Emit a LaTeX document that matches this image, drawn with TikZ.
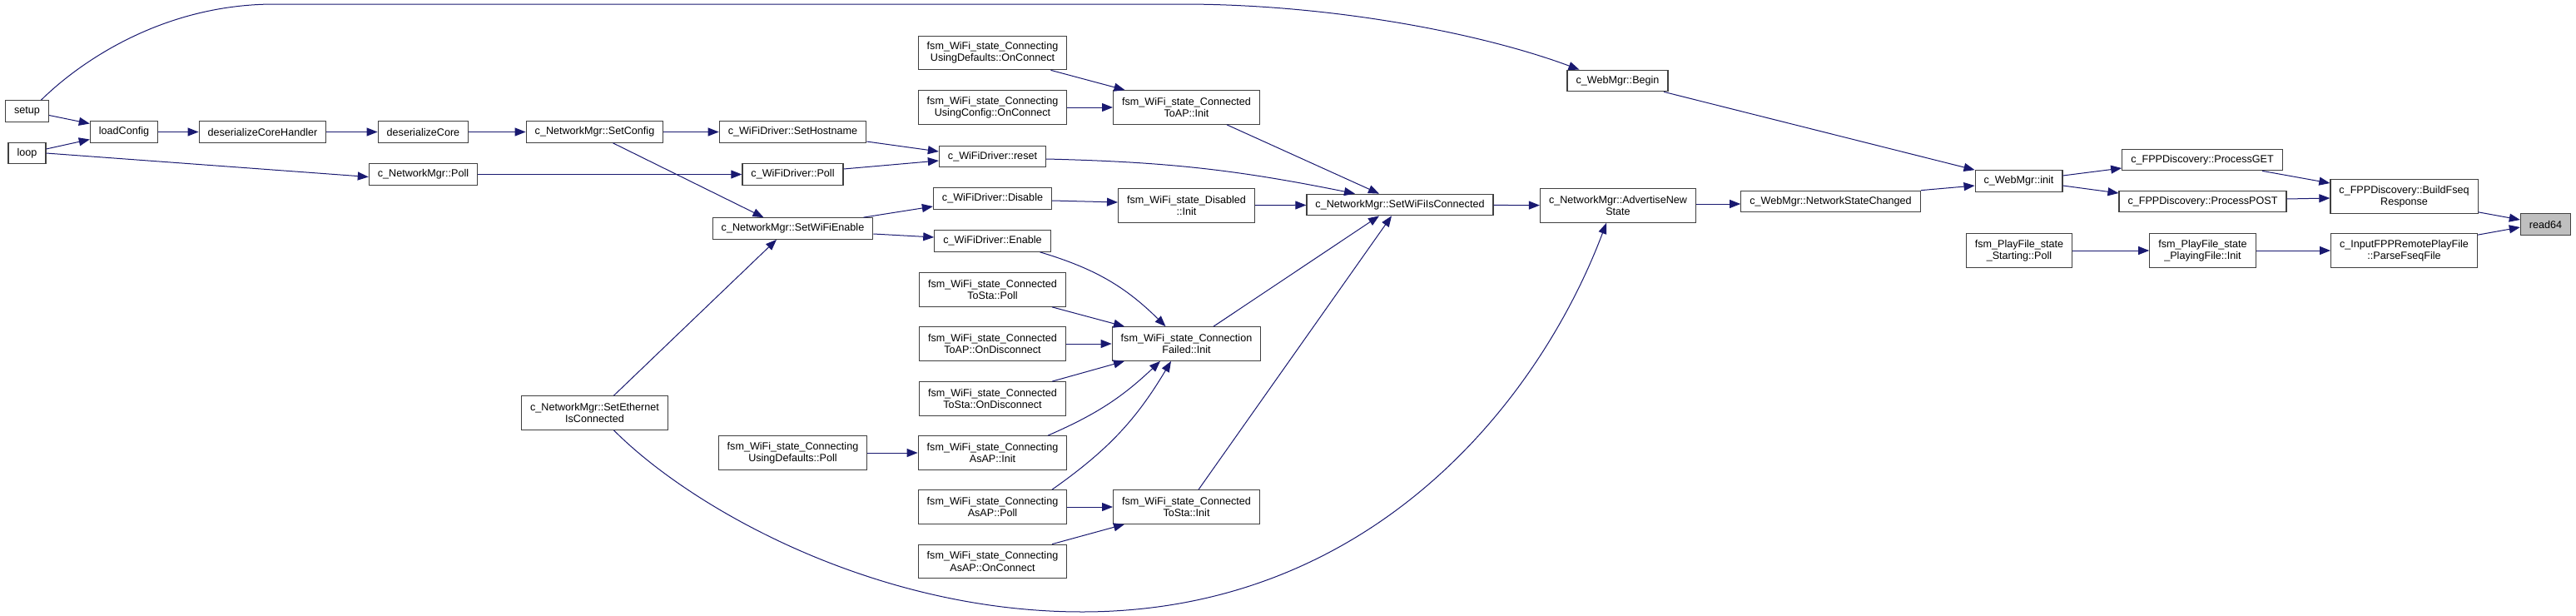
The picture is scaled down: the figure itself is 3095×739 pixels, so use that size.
\documentclass[tikz,border=0pt]{standalone}
\usepackage{fontspec}
\setmainfont{Liberation Sans}
\usetikzlibrary{arrows.meta}
\definecolor{callblue}{RGB}{25,25,112}
\definecolor{boxline}{RGB}{64,64,64}

\begin{document}
\begin{tikzpicture}[x=1pt,y=-1pt,
  fn/.style={draw=boxline,line width=1.2pt,fill=white,inner xsep=10.5pt,inner ysep=2pt,
    minimum height=25.5pt,font=\fontsize{12.6}{14.3}\selectfont},
  fn2/.style={fn,align=center,minimum height=40.5pt},
  cur/.style={fn,fill=black!25},
  call/.style={draw=callblue,line width=1pt,-{Triangle[length=13pt,width=10pt]}}]
  \useasboundingbox (0,0) rectangle (3095,739);

  % callers, left to right
  \node[fn] (setup) at (32.5,133.5) {setup};
  \node[fn] (loop) at (32.5,184) {loop};
  \node[fn] (loadcfg) at (149,158.5) {loadConfig};
  \node[fn] (dschandler) at (315.5,158.5) {deserializeCoreHandler};
  \node[fn] (dscore) at (508.5,158.5) {deserializeCore};
  \node[fn] (nmpoll) at (508.5,209.5) {c\_NetworkMgr::Poll};
  \node[fn] (setcfg) at (714.5,158.5) {c\_NetworkMgr::SetConfig};
  \node[fn2] (setether) at (714.5,496) {c\_NetworkMgr::SetEthernet\\IsConnected};
  \node[fn] (sethost) at (952.5,158.5) {c\_WiFiDriver::SetHostname};
  \node[fn] (wdpoll) at (952.5,209.5) {c\_WiFiDriver::Poll};
  \node[fn] (setwifien) at (952.5,274.5) {c\_NetworkMgr::SetWiFiEnable};
  \node[fn2] (udpoll) at (952.5,544) {fsm\_WiFi\_state\_Connecting\\UsingDefaults::Poll};

  \node[fn2] (udconn) at (1192.5,63.5) {fsm\_WiFi\_state\_Connecting\\UsingDefaults::OnConnect};
  \node[fn2] (ucconn) at (1192.5,129) {fsm\_WiFi\_state\_Connecting\\UsingConfig::OnConnect};
  \node[fn] (wdreset) at (1192.5,188) {c\_WiFiDriver::reset};
  \node[fn] (wddisable) at (1192.5,238.5) {c\_WiFiDriver::Disable};
  \node[fn] (wdenable) at (1192.5,289.5) {c\_WiFiDriver::Enable};
  \node[fn2] (stapoll) at (1192.5,348) {fsm\_WiFi\_state\_Connected\\ToSta::Poll};
  \node[fn2] (apdisc) at (1192.5,413) {fsm\_WiFi\_state\_Connected\\ToAP::OnDisconnect};
  \node[fn2] (stadisc) at (1192.5,479) {fsm\_WiFi\_state\_Connected\\ToSta::OnDisconnect};
  \node[fn2] (asapinit) at (1192.5,544) {fsm\_WiFi\_state\_Connecting\\AsAP::Init};
  \node[fn2] (asappoll) at (1192.5,609) {fsm\_WiFi\_state\_Connecting\\AsAP::Poll};
  \node[fn2] (asapconn) at (1192.5,674.5) {fsm\_WiFi\_state\_Connecting\\AsAP::OnConnect};

  \node[fn2] (apinit) at (1425.5,129) {fsm\_WiFi\_state\_Connected\\ToAP::Init};
  \node[fn2] (disinit) at (1425.5,247) {fsm\_WiFi\_state\_Disabled\\::Init};
  \node[fn2] (cfinit) at (1425.5,413) {fsm\_WiFi\_state\_Connection\\Failed::Init};
  \node[fn2] (stainit) at (1425.5,609) {fsm\_WiFi\_state\_Connected\\ToSta::Init};

  \node[fn] (setwific) at (1682,246) {c\_NetworkMgr::SetWiFiIsConnected};
  \node[fn2] (advert) at (1944,247) {c\_NetworkMgr::AdvertiseNew\\State};
  \node[fn] (webbegin) at (1943.5,97) {c\_WebMgr::Begin};
  \node[fn] (nschanged) at (2199.5,242) {c\_WebMgr::NetworkStateChanged};
  \node[fn] (webinit) at (2425.5,217.5) {c\_WebMgr::init};
  \node[fn2] (startpoll) at (2426,301) {fsm\_PlayFile\_state\\\_Starting::Poll};
  \node[fn] (procget) at (2646,192) {c\_FPPDiscovery::ProcessGET};
  \node[fn] (procpost) at (2646.5,242) {c\_FPPDiscovery::ProcessPOST};
  \node[fn2] (playinit) at (2646.5,301) {fsm\_PlayFile\_state\\\_PlayingFile::Init};
  \node[fn2] (buildfseq) at (2888.5,236) {c\_FPPDiscovery::BuildFseq\\Response};
  \node[fn2] (parsefseq) at (2888.5,301) {c\_InputFPPRemotePlayFile\\::ParseFseqFile};
  \node[cur] (readsf) at (3058.5,269.5) {read64};

  % calls
  \draw[call] ([yshift=-5pt]setup.east) -- ([yshift=10pt]loadcfg.west);
  \draw[call] ([yshift=5pt]loop.east) -- ([yshift=-9pt]loadcfg.west);
  \draw[call] (loop.east) -- ([yshift=-3pt]nmpoll.west);
  \draw[call] ([xshift=17pt]setup.north) .. controls (90,80) and (190,5) .. (330,5)
    -- (1420,5) .. controls (1600,5) and (1780,40) .. ([xshift=-46pt]webbegin.north);
  \draw[call] (loadcfg) -- (dschandler);
  \draw[call] (dschandler) -- (dscore);
  \draw[call] (dscore) -- (setcfg);
  \draw[call] (setcfg) -- (sethost);
  \draw[call] ([xshift=22pt]setcfg.south) -- ([xshift=-35pt]setwifien.north);
  \draw[call] (nmpoll) -- (wdpoll);
  \draw[call] ([yshift=-11.5pt]sethost.east) -- ([yshift=6pt]wdreset.west);
  \draw[call] ([yshift=6.5pt]wdpoll.east) -- ([yshift=-5pt]wdreset.west);
  \draw[call] ([yshift=-3pt]wdreset.east) to[bend left=5] ([xshift=-54pt]setwific.north);
  \draw[call] ([xshift=-12pt]setwifien.north east) -- ([yshift=-9.5pt]wddisable.west);
  \draw[call] ([yshift=-6.5pt]setwifien.east) -- ([yshift=4.5pt]wdenable.west);
  \draw[call] ([yshift=-2.5pt]wddisable.east) -- ([yshift=4pt]disinit.west);
  \draw[call] (disinit) -- (setwific);
  \draw[call] ([xshift=57pt]wdenable.south) to[bend left=14] ([xshift=-25pt]cfinit.north);
  \draw[call] ([xshift=70pt]udconn.south) -- ([xshift=-74pt]apinit.north);
  \draw[call] (ucconn) -- (apinit);
  \draw[call] ([xshift=48.5pt]apinit.south) -- ([xshift=-25pt]setwific.north);
  \draw[call] ([xshift=71.5pt]stapoll.south) -- ([xshift=-74.5pt]cfinit.north);
  \draw[call] (apdisc) -- (cfinit);
  \draw[call] ([xshift=71.5pt]stadisc.north) -- ([xshift=-74.5pt]cfinit.south);
  \draw[call] ([xshift=66.5pt]asapinit.north) to[bend right=10] ([xshift=-31.5pt]cfinit.south);
  \draw[call] ([xshift=71.5pt]asappoll.north) to[bend right=12] ([xshift=-18.5pt]cfinit.south);
  \draw[call] ([xshift=32.5pt]cfinit.north) -- ([xshift=-25pt]setwific.south);
  \draw[call] (udpoll) -- (asapinit);
  \draw[call] (asappoll) -- (stainit);
  \draw[call] ([xshift=71.5pt]asapconn.north) -- ([xshift=-74.5pt]stainit.south);
  \draw[call] ([xshift=14.5pt]stainit.north) -- ([xshift=-10pt]setwific.south);
  \draw[call] ([xshift=23pt]setether.north) -- ([xshift=-19.5pt]setwifien.south);
  \draw[call] ([xshift=23pt]setether.south) .. controls (830,610) and (1050,735) .. (1300,735)
    .. controls (1650,735) and (1850,480) .. ([xshift=-14pt]advert.south);
  \draw[call] (setwific) -- (advert);
  \draw[call] ([yshift=2pt]advert.east) -- ([yshift=-3pt]nschanged.west);
  \draw[call] (nschanged.north east) -- ([yshift=-5.5pt]webinit.west);
  \draw[call] ([xshift=55.5pt]webbegin.south) -- (webinit.north west);
  \draw[call] ([yshift=6.5pt]webinit.east) -- ([yshift=-10pt]procget.west);
  \draw[call] ([yshift=-5.5pt]webinit.east) -- ([yshift=10pt]procpost.west);
  \draw[call] ([xshift=72pt]procget.south) -- ([yshift=16pt]buildfseq.west);
  \draw[call] ([yshift=3pt]procpost.east) -- ([yshift=-2pt]buildfseq.west);
  \draw[call] ([yshift=2pt]buildfseq.south east) -- ([yshift=5.5pt]readsf.west);
  \draw[call] ([yshift=-2pt]parsefseq.north east) -- ([yshift=-3.5pt]readsf.west);
  \draw[call] (startpoll) -- (playinit);
  \draw[call] (playinit) -- (parsefseq);
\end{tikzpicture}
\end{document}
